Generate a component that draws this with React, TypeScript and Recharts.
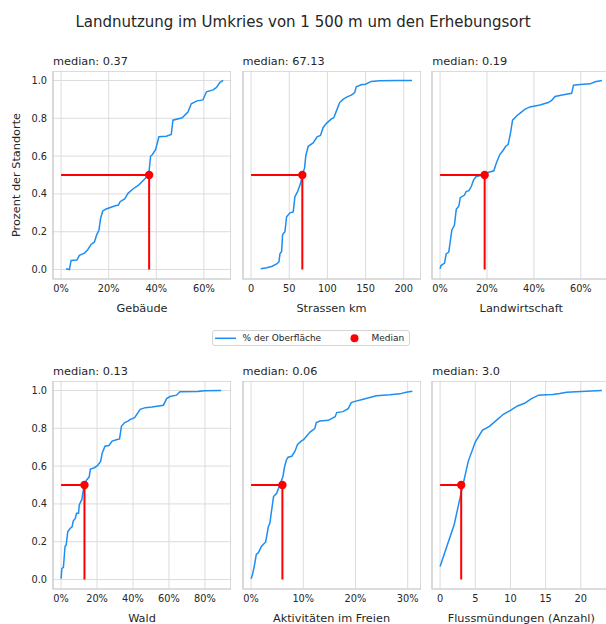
import React from "react";
import {
  LineChart,
  Line,
  XAxis,
  YAxis,
  CartesianGrid,
  ReferenceLine,
  ReferenceDot,
  ReferenceArea,
} from "recharts";

// ECDF-Punkte: [Wert, Anteil der Standorte]
const gebaeude: [number, number][] = [
  [0.021, 0.004], [0.035, 0.0], [0.042, 0.048], [0.066, 0.05], [0.077, 0.075],
  [0.098, 0.087], [0.112, 0.105], [0.126, 0.133], [0.14, 0.146], [0.15, 0.185],
  [0.159, 0.208], [0.166, 0.27], [0.175, 0.31], [0.189, 0.32], [0.225, 0.336],
  [0.241, 0.341], [0.248, 0.359], [0.267, 0.373], [0.281, 0.403], [0.302, 0.426],
  [0.327, 0.448], [0.347, 0.474], [0.368, 0.5], [0.376, 0.599], [0.383, 0.607],
  [0.397, 0.634], [0.411, 0.702], [0.442, 0.705], [0.463, 0.714], [0.47, 0.79],
  [0.509, 0.803], [0.533, 0.833], [0.547, 0.877], [0.571, 0.892], [0.596, 0.897],
  [0.611, 0.94], [0.639, 0.95], [0.653, 0.963], [0.667, 0.989], [0.681, 1.0],
];

const strassen: [number, number][] = [
  [12.6, 0.004], [20.4, 0.009], [27, 0.016], [33.5, 0.03], [36.5, 0.04],
  [37.8, 0.083], [40, 0.096], [41.3, 0.185], [44.3, 0.2], [46.5, 0.279],
  [50.9, 0.3], [55.2, 0.305], [57.4, 0.385], [60.9, 0.412], [64.8, 0.456],
  [67, 0.5], [70, 0.536], [71.7, 0.602], [74.8, 0.652], [81.3, 0.67],
  [86.5, 0.702], [90.9, 0.709], [94.3, 0.75], [98.7, 0.773], [105.2, 0.797],
  [108.3, 0.803], [112.6, 0.847], [116.1, 0.883], [120.4, 0.9], [125.7, 0.913],
  [131.3, 0.922], [135.7, 0.936], [137.8, 0.966], [144.3, 0.977], [150, 0.98],
  [157.4, 0.995], [168.3, 0.998], [190, 1.0], [210.9, 1.0],
];

const landwirtschaft: [number, number][] = [
  [0, 0.004], [0.004, 0.021], [0.019, 0.034], [0.026, 0.083], [0.037, 0.092],
  [0.05, 0.208], [0.061, 0.234], [0.069, 0.318], [0.08, 0.336], [0.086, 0.38],
  [0.104, 0.394], [0.111, 0.412], [0.123, 0.417], [0.133, 0.439], [0.143, 0.474],
  [0.154, 0.492], [0.183, 0.5], [0.204, 0.513], [0.229, 0.522], [0.24, 0.563],
  [0.254, 0.607], [0.269, 0.631], [0.28, 0.652], [0.29, 0.661], [0.3, 0.72],
  [0.309, 0.79], [0.326, 0.812], [0.34, 0.826], [0.361, 0.847], [0.383, 0.86],
  [0.426, 0.87], [0.461, 0.883], [0.476, 0.895], [0.49, 0.915], [0.526, 0.924],
  [0.561, 0.932], [0.569, 0.975], [0.597, 0.979], [0.64, 0.982], [0.661, 0.993],
  [0.69, 1.0],
];

const wald: [number, number][] = [
  [0, 0.004], [0.004, 0.057], [0.013, 0.066], [0.022, 0.176], [0.028, 0.181],
  [0.037, 0.252], [0.05, 0.27], [0.061, 0.279], [0.068, 0.311], [0.079, 0.323],
  [0.086, 0.35], [0.097, 0.35], [0.101, 0.394], [0.116, 0.425], [0.128, 0.5],
  [0.143, 0.528], [0.156, 0.542], [0.163, 0.584], [0.183, 0.59], [0.202, 0.602],
  [0.22, 0.625], [0.229, 0.67], [0.244, 0.705], [0.266, 0.709], [0.284, 0.732],
  [0.312, 0.741], [0.325, 0.744], [0.336, 0.812], [0.354, 0.83], [0.372, 0.838],
  [0.385, 0.847], [0.409, 0.856], [0.44, 0.9], [0.468, 0.909], [0.505, 0.913],
  [0.569, 0.922], [0.587, 0.957], [0.606, 0.968], [0.642, 0.975], [0.661, 0.993],
  [0.761, 0.995], [0.798, 0.998], [0.89, 1.0],
];

const aktivitaeten: [number, number][] = [
  [0, 0.004], [0.003, 0.03], [0.006, 0.069], [0.01, 0.133], [0.014, 0.142],
  [0.02, 0.176], [0.028, 0.199], [0.033, 0.279], [0.036, 0.297], [0.039, 0.359],
  [0.043, 0.439], [0.049, 0.456], [0.055, 0.5], [0.061, 0.545], [0.064, 0.595],
  [0.068, 0.634], [0.071, 0.647], [0.078, 0.652], [0.084, 0.679], [0.089, 0.714],
  [0.096, 0.732], [0.101, 0.741], [0.106, 0.758], [0.113, 0.78], [0.118, 0.79],
  [0.122, 0.798], [0.125, 0.83], [0.132, 0.838], [0.148, 0.842], [0.161, 0.861],
  [0.164, 0.883], [0.176, 0.888], [0.186, 0.904], [0.192, 0.936], [0.197, 0.941],
  [0.215, 0.954], [0.24, 0.972], [0.266, 0.977], [0.285, 0.982], [0.297, 0.991],
  [0.309, 0.996],
];

const fluss: [number, number][] = [
  [0, 0.069], [1, 0.18], [2, 0.29], [3, 0.46], [4, 0.625], [5, 0.727],
  [6, 0.789], [7, 0.81], [8, 0.842], [9, 0.874], [10, 0.895], [11, 0.918],
  [12, 0.932], [13, 0.957], [14, 0.975], [15, 0.977], [16, 0.979], [17, 0.984],
  [18, 0.991], [20, 0.995], [23, 1.0],
];

const medians = [0.37, 67.13, 0.19, 0.13, 0.06, 3.0];
const medianLabels = ["0.37", "67.13", "0.19", "0.13", "0.06", "3.0"];
const xLabels = [
  "Gebäude",
  "Strassen km",
  "Landwirtschaft",
  "Wald",
  "Aktivitäten im Freien",
  "Flussmündungen (Anzahl)",
];
const xTicks = [
  [0, 0.2, 0.4, 0.6],
  [0, 50, 100, 150, 200],
  [0, 0.2, 0.4, 0.6],
  [0, 0.2, 0.4, 0.6, 0.8],
  [0, 0.1, 0.2, 0.3],
  [0, 5, 10, 15, 20],
];
const yTicks = [0, 0.2, 0.4, 0.6, 0.8, 1.0];

const series = [gebaeude, strassen, landwirtschaft, wald, aktivitaeten, fluss];
const isPercent = [true, false, true, true, true, false];
const xDomains: [number, number][] = [
  [-0.034, 0.714],
  [-10.6, 222.6],
  [-0.0345, 0.7245],
  [-0.045, 0.945],
  [-0.0155, 0.3255],
  [-1.15, 24.15],
];

const FONT = "'DejaVu Sans', sans-serif";
const TEXT = "#262626";
const BLUE = "#1f8ef1";
const RED = "#ff0000";
const GRID = "#dcdcdc";
const TICK = { fontSize: 9.8, fill: TEXT, fontFamily: FONT };

const PLOT_W = 178;
const PLOT_H = 208;
const Y_W = 40;
const X_H = 22;
const colLeft = [53, 242.5, 432.3];
const rowTop = [71, 381];

const Panel = ({ i }: { i: number }) => {
  const col = i % 3;
  const row = Math.floor(i / 3);
  const left = colLeft[col];
  const top = rowTop[row];
  const data = series[i].map(([x, p]) => ({ x, p }));
  const fmt = (v: number) =>
    isPercent[i] ? `${Math.round(v * 100)}%` : `${Math.round(v)}`;
  const [x0, x1] = xDomains[i];
  return (
    <>
      <div
        style={{
          position: "absolute",
          left,
          top: top - 16,
          fontSize: 11.3,
          lineHeight: "14px",
          color: TEXT,
          whiteSpace: "nowrap",
        }}
      >
        median: {medianLabels[i]}
      </div>
      <div style={{ position: "absolute", left: left - Y_W, top }}>
        <LineChart
          width={Y_W + PLOT_W}
          height={PLOT_H + X_H}
          data={data}
          margin={{ top: 0, right: 0, bottom: 0, left: 0 }}
        >
          <CartesianGrid stroke={GRID} strokeWidth={1} />
          <XAxis
            dataKey="x"
            type="number"
            domain={[x0, x1]}
            allowDataOverflow
            ticks={xTicks[i]}
            tickFormatter={fmt}
            height={X_H}
            axisLine={false}
            tickLine={false}
            tickSize={0}
            tickMargin={6.5}
            tick={TICK}
          />
          <YAxis
            type="number"
            domain={[-0.05, 1.05]}
            allowDataOverflow
            ticks={yTicks}
            tickFormatter={(v: number) => v.toFixed(1)}
            width={Y_W}
            axisLine={false}
            tickLine={false}
            tickSize={0}
            tickMargin={6}
            tick={col === 0 ? TICK : false}
          />
          <ReferenceArea
            x1={x0}
            x2={x1}
            y1={-0.05}
            y2={1.05}
            fill="none"
            stroke="#cccccc"
            strokeWidth={1.2}
            ifOverflow="visible"
          />
          <Line
            dataKey="p"
            type="linear"
            stroke={BLUE}
            strokeWidth={1.5}
            dot={false}
            isAnimationActive={false}
          />
          <ReferenceLine
            segment={[
              { x: 0, y: 0.5 },
              { x: medians[i], y: 0.5 },
            ]}
            stroke={RED}
            strokeWidth={2}
          />
          <ReferenceLine
            segment={[
              { x: medians[i], y: 0 },
              { x: medians[i], y: 0.5 },
            ]}
            stroke={RED}
            strokeWidth={2}
          />
          <ReferenceDot x={medians[i]} y={0.5} r={4.2} fill={RED} stroke="none" />
        </LineChart>
      </div>
      <div
        style={{
          position: "absolute",
          left,
          width: PLOT_W,
          top: top + PLOT_H + 23,
          textAlign: "center",
          fontSize: 11.3,
          lineHeight: "14px",
          color: TEXT,
          whiteSpace: "nowrap",
        }}
      >
        {xLabels[i]}
      </div>
    </>
  );
};

export default function App() {
  return (
    <div
      style={{
        position: "absolute",
        left: 0,
        top: 0,
        width: 606,
        height: 624,
        overflow: "hidden",
        background: "#fff",
        fontFamily: FONT,
      }}
    >
      <div
        style={{
          position: "absolute",
          left: 0,
          top: 13,
          width: 606,
          textAlign: "center",
          fontSize: 15,
          lineHeight: "18px",
          color: TEXT,
        }}
      >
        Landnutzung im Umkries von 1 500 m um den Erhebungsort
      </div>
      <div
        style={{
          position: "absolute",
          left: 16.7 - 80,
          top: 175 - 7,
          width: 160,
          textAlign: "center",
          fontSize: 11.3,
          lineHeight: "14px",
          color: TEXT,
          transform: "rotate(-90deg)",
          whiteSpace: "nowrap",
        }}
      >
        Prozent der Standorte
      </div>
      {[0, 1, 2, 3, 4, 5].map((i) => (
        <Panel key={i} i={i} />
      ))}
      <div
        style={{
          position: "absolute",
          left: 211.5,
          top: 330,
          width: 198,
          height: 16,
          border: "1px solid #d5d5d5",
          borderRadius: 3,
          boxSizing: "border-box",
          fontSize: 9,
          color: TEXT,
        }}
      >
        <svg
          width={198}
          height={16}
          style={{ position: "absolute", left: -1, top: -1 }}
        >
          <line x1={3} x2={24} y1={8.3} y2={8.3} stroke={BLUE} strokeWidth={1.5} />
          <circle cx={142.5} cy={8.3} r={4} fill={RED} />
        </svg>
        <span style={{ position: "absolute", left: 30, top: 1, lineHeight: "12px" }}>
          % der Oberfläche
        </span>
        <span style={{ position: "absolute", left: 159, top: 1, lineHeight: "12px" }}>
          Median
        </span>
      </div>
    </div>
  );
}
